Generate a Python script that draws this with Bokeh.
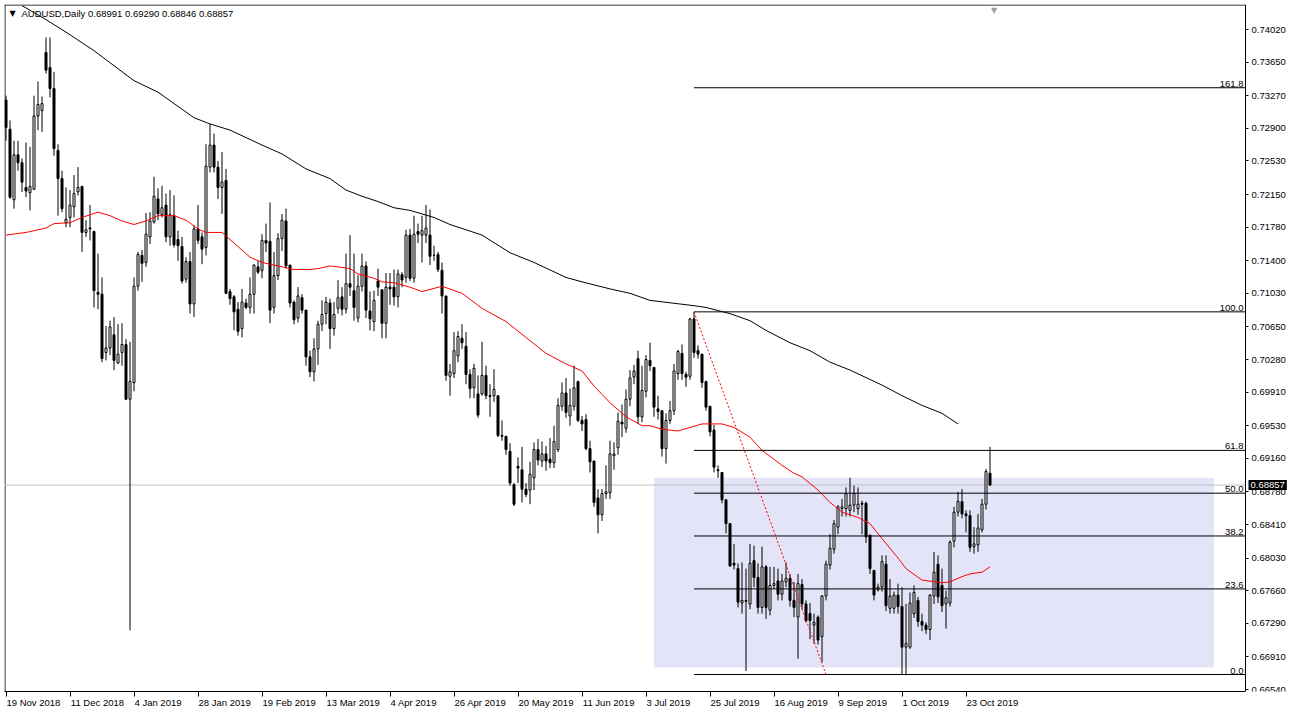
from bokeh.plotting import figure
from bokeh.models import ColumnDataSource, FixedTicker, Label, LabelSet, Range1d, LinearAxis
from bokeh.embed import file_html
from bokeh.resources import INLINE
from bokeh.core.properties import value

symbol = "AUDUSD,Daily"
last_ohlc = "0.68991 0.69290 0.68846 0.68857"
bid = 0.68857

opens = [.7322,.7289,.7209,.7260,.7251,.7223,.7217,.7221,.7304,.7310,
 .7376,.7359,.7335,.7265,.7233,.7183,.7189,.7201,.7218,.7224,
 .7172,.7177,.7173,.7104,.7102,.7036,.7041,.7056,.7024,.7036,
 .7045,.6983,.7002,.7111,.7146,.7138,.7167,.7184,.7210,.7192,
 .7203,.7167,.7191,.7164,.7156,.7119,.7139,.7091,.7176,.7167,
 .7155,.7246,.7271,.7246,.7223,.7231,.7105,.7099,.7085,.7063,
 .7092,.7087,.7102,.7133,.7129,.7163,.7162,.7087,.7123,.7165,
 .7185,.7135,.7093,.7075,.7098,.7084,.7031,.7014,.7040,.7068,
 .7080,.7092,.7063,.7086,.7099,.7085,.7114,.7106,.7075,.7111,
 .7134,.7083,.7071,.7117,.7107,.7069,.7110,.7110,.7099,.7124,
 .7121,.7169,.7120,.7173,.7169,.7169,.7169,.7146,.7147,.7129,
 .7100,.7009,.7012,.7032,.7052,.7043,.7011,.6996,.6989,.6989,
 .7010,.6987,.6987,.6987,.6942,.6941,.6924,.6886,.6907,.6903,
 .6881,.6880,.6894,.6926,.6913,.6921,.6915,.6911,.6926,.6975,
 .6990,.6964,.6975,.7003,.6959,.6960,.6927,.6913,.6871,.6852,
 .6876,.6877,.6919,.6928,.6957,.6950,.6983,.7008,.7029,.6963,
 .6992,.7027,.7019,.6972,.6970,.6927,.6959,.6970,.7012,.7035,
 .7011,.7009,.7074,.7038,.7034,.7003,.6975,.6948,.6903,.6900,
 .6869,.6842,.6797,.6791,.6752,.6755,.6751,.6800,.6781,.6747,
 .6793,.6744,.6772,.6777,.6762,.6776,.6780,.6755,.6736,.6773,
 .6751,.6740,.6727,.6736,.6714,.6760,.6795,.6813,.6838,.6859,
 .6859,.6857,.6863,.6859,.6865,.6865,.6829,.6789,.6767,.6770,
 .6796,.6746,.6746,.6761,.6748,.6702,.6702,.6740,.6755,.6731,
 .6727,.6722,.6760,.6796,.6772,.6751,.6752,.6822,.6855,.6867,
 .6853,.6851,.6816,.6818,.6835,.6864,.68991]
highs = [.7327,.7299,.7276,.7276,.7256,.7274,.7269,.7327,.7343,.7326,
 .7393,.7393,.7354,.7272,.7242,.7223,.7220,.7237,.7246,.7225,
 .7186,.7203,.7174,.7148,.7121,.7066,.7072,.7076,.7068,.7069,
 .7051,.7048,.7121,.7150,.7152,.7194,.7195,.7235,.7222,.7225,
 .7216,.7220,.7214,.7174,.7167,.7144,.7150,.7180,.7203,.7172,
 .7272,.7295,.7284,.7253,.7263,.7244,.7108,.7101,.7093,.7108,
 .7097,.7121,.7136,.7140,.7170,.7182,.7206,.7150,.7171,.7193,
 .7199,.7135,.7095,.7110,.7102,.7084,.7038,.7052,.7072,.7095,
 .7099,.7097,.7093,.7118,.7110,.7148,.7169,.7148,.7124,.7148,
 .7139,.7105,.7106,.7131,.7107,.7126,.7126,.7130,.7130,.7127,
 .7175,.7176,.7191,.7182,.7191,.7203,.7198,.7157,.7150,.7138,
 .7100,.7023,.7059,.7060,.7068,.7059,.7017,.7023,.7010,.7048,
 .7021,.7000,.7017,.6987,.6959,.6941,.6933,.6888,.6917,.6929,
 .6888,.6912,.6934,.6938,.6935,.6930,.6939,.6953,.6984,.7002,
 .7007,.6995,.7021,.7004,.6964,.6966,.6936,.6913,.6881,.6881,
 .6908,.6936,.6934,.6968,.6977,.6994,.7016,.7022,.7038,.7021,
 .7033,.7047,.7019,.6987,.6970,.6967,.6981,.7023,.7039,.7045,
 .7014,.7075,.7082,.7044,.7034,.7004,.6975,.6954,.6908,.6900,
 .6869,.6842,.6819,.6797,.6798,.6791,.6819,.6817,.6797,.6816,
 .6795,.6793,.6793,.6791,.6785,.6798,.6785,.6776,.6785,.6779,
 .6755,.6752,.6740,.6738,.6761,.6800,.6830,.6846,.6863,.6870,
 .6883,.6894,.6885,.6883,.6868,.6867,.6829,.6789,.6774,.6806,
 .6806,.6779,.6765,.6774,.6770,.6751,.6764,.6772,.6759,.6740,
 .6730,.6762,.6810,.6806,.6791,.6766,.6823,.6861,.6878,.6881,
 .6857,.6857,.6838,.6853,.6870,.6904,.69290]
lows = [.7276,.7210,.7199,.7242,.7218,.7212,.7197,.7220,.7288,.7286,
 .7352,.7325,.7259,.7191,.7195,.7178,.7178,.7189,.7214,.7150,
 .7167,.7163,.7087,.7085,.7025,.7027,.7033,.7016,.7023,.7021,
 .6982,.6721,.6992,.7106,.7116,.7133,.7159,.7182,.7186,.7189,
 .7161,.7157,.7155,.7140,.7114,.7115,.7080,.7076,.7159,.7136,
 .7146,.7240,.7240,.7210,.7193,.7102,.7090,.7061,.7055,.7053,
 .7085,.7080,.7080,.7125,.7120,.7150,.7069,.7080,.7118,.7151,
 .7131,.7087,.7068,.7070,.7080,.7021,.7008,.7003,.7022,.7060,
 .7068,.7040,.7055,.7080,.7078,.7080,.7100,.7072,.7070,.7105,
 .7075,.7061,.7060,.7100,.7052,.7052,.7090,.7089,.7087,.7110,
 .7115,.7117,.7115,.7160,.7138,.7160,.7135,.7140,.7127,.7080,
 .7004,.6987,.7007,.7025,.7040,.7000,.6984,.6984,.6962,.6987,
 .6983,.6963,.6980,.6940,.6936,.6920,.6885,.6862,.6888,.6866,
 .6872,.6864,.6880,.6908,.6906,.6902,.6905,.6905,.6923,.6970,
 .6962,.6953,.6970,.6957,.6947,.6925,.6900,.6861,.6831,.6845,
 .6870,.6870,.6903,.6920,.6940,.6945,.6975,.7000,.6955,.6957,
 .6985,.7015,.6963,.6960,.6918,.6910,.6955,.6965,.7005,.7005,
 .6997,.7005,.7030,.7029,.6996,.6970,.6941,.6900,.6894,.6865,
 .6831,.6793,.6790,.6747,.6740,.6675,.6745,.6770,.6740,.6740,
 .6734,.6738,.6768,.6755,.6755,.6770,.6748,.6736,.6689,.6745,
 .6730,.6711,.6706,.6705,.6685,.6755,.6790,.6808,.6830,.6850,
 .6850,.6850,.6855,.6852,.6830,.6820,.6785,.6755,.6765,.6765,
 .6743,.6740,.6740,.6740,.6671,.6670,.6700,.6735,.6725,.6720,
 .6717,.6710,.6751,.6752,.6742,.6723,.6748,.6815,.6850,.6848,
 .6832,.6810,.6808,.6810,.6832,.6858,.68846]
closes = [.7291,.7212,.7260,.7251,.7229,.7219,.7224,.7304,.7317,.7318,
 .7356,.7335,.7267,.7233,.7199,.7187,.7203,.7216,.7223,.7172,
 .7175,.7176,.7106,.7102,.7029,.7041,.7065,.7027,.7034,.7045,
 .6983,.7003,.7111,.7147,.7137,.7170,.7185,.7213,.7193,.7200,
 .7167,.7192,.7158,.7157,.7117,.7139,.7091,.7176,.7163,.7153,
 .7247,.7271,.7246,.7223,.7229,.7103,.7097,.7082,.7060,.7093,
 .7087,.7102,.7135,.7127,.7163,.7160,.7084,.7123,.7165,.7186,
 .7134,.7092,.7073,.7100,.7084,.7031,.7014,.7040,.7068,.7079,
 .7093,.7063,.7079,.7098,.7085,.7114,.7110,.7087,.7111,.7134,
 .7084,.7074,.7095,.7110,.7069,.7110,.7108,.7099,.7125,.7118,
 .7169,.7120,.7170,.7170,.7174,.7177,.7145,.7146,.7130,.7100,
 .7010,.7014,.7038,.7054,.7047,.7011,.6995,.7018,.6965,.7010,
 .6987,.6986,.6994,.6942,.6941,.6926,.6888,.6864,.6905,.6881,
 .6875,.6898,.6926,.6914,.6921,.6913,.6911,.6935,.6976,.6990,
 .6968,.6976,.6996,.6959,.6955,.6927,.6912,.6866,.6852,.6876,
 .6878,.6921,.6921,.6958,.6955,.6983,.7007,.7015,.6963,.6993,
 .7028,.7021,.6974,.6969,.6927,.6959,.6970,.7015,.7037,.7012,
 .7008,.7074,.7036,.7034,.7002,.6974,.6946,.6906,.6902,.6869,
 .6842,.6794,.6795,.6753,.6755,.6754,.6797,.6781,.6747,.6793,
 .6747,.6772,.6774,.6762,.6777,.6780,.6755,.6747,.6774,.6751,
 .6732,.6732,.6730,.6710,.6760,.6796,.6814,.6842,.6861,.6861,
 .6876,.6863,.6876,.6864,.6864,.6827,.6791,.6761,.6770,.6799,
 .6749,.6760,.6761,.6748,.6702,.6706,.6752,.6764,.6731,.6727,
 .6722,.6761,.6787,.6759,.6749,.6758,.6821,.6855,.6867,.6853,
 .6851,.6815,.6819,.6837,.6864,.6901,.68857]

# moving averages (bar index, price)
ma_red_idx = [0,5,10,12,16,19,23,26,29,32,35,38,42,45,48,50,54,57,61,64,
 68,72,76,78,81,83,86,88,92,94,97,101,104,109,114,119,125,130,135,140,
 144,147,151,155,159,161,164,168,171,174,179,182,186,189,194,197,199,203,206,209,
 213,216,219,223,225,229,234,236,239,241,244,246]
ma_red_val = [.7169,.7172,.7177,.7182,.7183,.7189,.7195,.7191,.7185,.7181,
 .7185,.7191,.7191,.7186,.7176,.7172,.7172,.7160,.7144,.7138,
 .7134,.7130,.7130,.7131,.7134,.7133,.7131,.7125,.7120,.7116,
 .7115,.7110,.7105,.7111,.7103,.7086,.7071,.7053,.7035,.7023,
 .7015,.6998,.6979,.6963,.6953,.6953,.6949,.6947,.6951,.6955,
 .6955,.6951,.6940,.6925,.6908,.6899,.6895,.6880,.6866,.6855,
 .6849,.6842,.6825,.6803,.6791,.6778,.6775,.6776,.6782,.6785,.6787,.6793]
ma_black_idx = [4,9,15,22,32,38,47,51,56,64,69,75,81,85,89,93,97,101,107,111,
 119,126,132,140,144,151,156,161,172,175,181,186,190,196,201,206,211,219,224,229,234,238]
ma_black_val = [.7429,.7416,.7399,.7378,.7344,.7331,.7302,.7295,.7288,.7271,
 .7261,.7244,.7233,.7220,.7213,.7207,.7200,.7197,.7189,.7181,
 .7169,.7149,.7138,.7121,.7116,.7108,.7103,.7095,.7089,.7087,
 .7080,.7072,.7061,.7047,.7038,.7025,.7016,.6999,.6987,.6976,.6967,.6955]

# Fibonacci retracement (anchor 1 = high, anchor 2 = low)
fib_idx = [172, 205]
fib_price = [0.7082, 0.6671]
fib_levels = [0.0, 23.6, 38.2, 50.0, 61.8, 100.0, 161.8]
fib_level_labels = ["0.0", "23.6", "38.2", "50.0", "61.8", "100.0", "161.8"]

# shaded zone
zone_idx = [162, 302]
zone_price = [0.6679, 0.6894]

date_idx = [0,16,32,48,64,80,96,112,128,144,160,176,192,208,224,240]
date_labels = ["19 Nov 2018","11 Dec 2018","4 Jan 2019","28 Jan 2019","19 Feb 2019",
 "13 Mar 2019","4 Apr 2019","26 Apr 2019","20 May 2019","11 Jun 2019","3 Jul 2019",
 "25 Jul 2019","16 Aug 2019","9 Sep 2019","1 Oct 2019","23 Oct 2019"]
price_tick_labels = ["0.74020","0.73650","0.73270","0.72900","0.72530","0.72150","0.71780",
 "0.71400","0.71030","0.70650","0.70280","0.69910","0.69530","0.69160","0.68780",
 "0.68410","0.68030","0.67660","0.67290","0.66910","0.66540"]

FONT = "Liberation Sans"
FS_PX = 9.5
FS = "%gpx" % FS_PX

# approximate advance widths (per 1000 em) of Liberation Sans, used to left-align date labels
ADV = {' ': 278, 'N': 722, 'o': 556, 'v': 500, 'D': 722, 'e': 556, 'c': 500, 'J': 500,
       'a': 556, 'n': 556, 'F': 611, 'b': 556, 'M': 833, 'r': 333, 'A': 667, 'p': 556,
       'y': 500, 'u': 556, 'l': 222, 'g': 556, 'S': 667, 'O': 778, 't': 278}
def text_w(s):
    return sum(ADV.get(ch, 556) for ch in s) * FS_PX / 1000.0

idx = list(range(len(opens)))
W, H = 1292, 714
PX_PER_BAR = 4.0
BL, BR, BT, BB = 4, 0, 4, 23
frame_w = W - BL - BR
frame_h = H - BT - BB
AXIS_PX = 1241                      # chart area width (left of the price scale)
x0 = -0.375
x1 = x0 + frame_w / PX_PER_BAR
x_axis = x0 + AXIS_PX / PX_PER_BAR  # where the price scale sits
PRICE_PER_PX = 0.00374 / 33.0
y_top = 0.7402 + 25 * PRICE_PER_PX
y_bot = y_top - frame_h * PRICE_PER_PX

p = figure(width=W, height=H, output_backend="svg", toolbar_location=None,
           x_range=Range1d(x0, x1), y_range=Range1d(y_bot, y_top),
           y_axis_location="right", min_border_left=BL, min_border_top=BT,
           min_border_right=BR, min_border_bottom=BB)
p.xgrid.visible = False
p.ygrid.visible = False
p.background_fill_color = "white"
p.border_fill_color = "white"
p.outline_line_color = None

# price axis, pinned to the right edge of the chart area
p.yaxis.fixed_location = x_axis
p.yaxis.ticker = FixedTicker(ticks=[float(t) for t in price_tick_labels])
p.yaxis.major_label_overrides = {float(t): t for t in price_tick_labels}
p.yaxis.major_label_text_font = FONT
p.yaxis.major_label_text_font_size = FS
p.yaxis.major_label_text_color = "black"
p.yaxis.major_tick_out = 3
p.yaxis.major_tick_in = 0
p.yaxis.minor_tick_out = 0
p.yaxis.minor_tick_in = 0
p.yaxis.major_label_standoff = 3
p.yaxis.axis_line_color = "black"

# time axis: tick marks
p.xaxis.ticker = FixedTicker(ticks=date_idx)
p.xaxis.major_label_overrides = {i: "" for i in date_idx}
p.xaxis.major_label_text_font_size = "0px"
p.xaxis.major_label_standoff = 0
p.xaxis.major_tick_out = 5
p.xaxis.major_tick_in = 0
p.xaxis.minor_tick_out = 0
p.xaxis.minor_tick_in = 0
p.xaxis.axis_line_color = "black"
p.xaxis.bounds = (x0, x_axis)

# time axis: labels starting just right of each tick
label_pos = [d + (text_w(t) / 2.0 + 0.5) / PX_PER_BAR for d, t in zip(date_idx, date_labels)]
lab_axis = LinearAxis(ticker=FixedTicker(ticks=label_pos),
                      major_label_overrides={pos: t for pos, t in zip(label_pos, date_labels)},
                      major_label_text_font=FONT, major_label_text_font_size=FS,
                      major_label_text_color="black", major_label_standoff=0,
                      major_tick_out=0, major_tick_in=0, minor_tick_out=0, minor_tick_in=0,
                      axis_line_color=None)
p.add_layout(lab_axis, "below")

# chart-area border (left and top edges)
p.line(x=[x0 + 0.5 / PX_PER_BAR] * 2, y=[y_bot, y_top], line_color="black", line_width=1)
p.line(x=[x0, x_axis], y=[y_top - 0.5 * PRICE_PER_PX] * 2, line_color="black", line_width=1)

# zone rectangle
p.quad(left=[zone_idx[0]], right=[zone_idx[1]], bottom=[zone_price[0]], top=[zone_price[1]],
       fill_color="#e4e4f8", line_color=None)

# bid line
p.line(x=[x0, x_axis], y=[bid, bid], line_color="#c0c0c0", line_width=1)

# candles
p.segment(x0=idx, y0=lows, x1=idx, y1=highs, line_color="black", line_width=1)
bull = [i for i in idx if closes[i] >= opens[i]]
bear = [i for i in idx if closes[i] < opens[i]]
p.vbar(x=bull, width=0.5, top=[closes[i] for i in bull], bottom=[opens[i] for i in bull],
       fill_color="white", line_color="black", line_width=1)
p.vbar(x=bear, width=0.5, top=[opens[i] for i in bear], bottom=[closes[i] for i in bear],
       fill_color="black", line_color="black", line_width=1)

# moving averages
p.line(ma_black_idx, ma_black_val, line_color="black", line_width=1)
p.line(ma_red_idx, ma_red_val, line_color="red", line_width=1)

# fibonacci
hi, lo = fib_price
lvl_prices = [lo + (hi - lo) * l / 100.0 for l in fib_levels]
p.segment(x0=[fib_idx[0]] * len(lvl_prices), y0=lvl_prices, x1=[x_axis] * len(lvl_prices),
          y1=lvl_prices, line_color="black", line_width=1)
p.line(fib_idx, fib_price, line_color="red", line_width=1, line_dash="2 2")
fib_src = ColumnDataSource(dict(x=[x_axis] * len(lvl_prices), y=lvl_prices, t=fib_level_labels))
p.add_layout(LabelSet(x="x", y="y", text="t", source=fib_src, x_offset=-2, y_offset=1,
                      text_align="right", text_baseline="bottom",
                      text_font=value(FONT), text_font_size=FS, text_color="black"))

# title
p.add_layout(Label(x=x0, y=y_top, x_offset=5, y_offset=-8.5, text="\u25bc", text_baseline="middle",
                   text_align="left", text_font="DejaVu Sans", text_font_size="8px",
                   text_color="black"))
p.add_layout(Label(x=x0, y=y_top, x_offset=17, y_offset=-8.5, text=symbol + "  " + last_ohlc,
                   text_baseline="middle", text_align="left", text_font=FONT,
                   text_font_size=FS, text_color="black"))
# chart-shift marker
p.add_layout(Label(x=len(opens), y=y_top, x_offset=0, y_offset=-1, text="\u25bc", text_baseline="top",
                   text_align="center", text_font="DejaVu Sans", text_font_size="8px",
                   text_color="#a0a0a0"))

# current price box on the price scale
box_kw = dict(x=x_axis, y=bid, x_offset=3, text="%.5f" % bid, text_baseline="middle",
              text_align="left", text_font=FONT, text_font_size=FS,
              text_color="white", background_fill_color="black")
if "padding" in Label.properties():
    box_kw["padding"] = 2
p.add_layout(Label(**box_kw))

open("out.html", "w").write(file_html(p, INLINE))
